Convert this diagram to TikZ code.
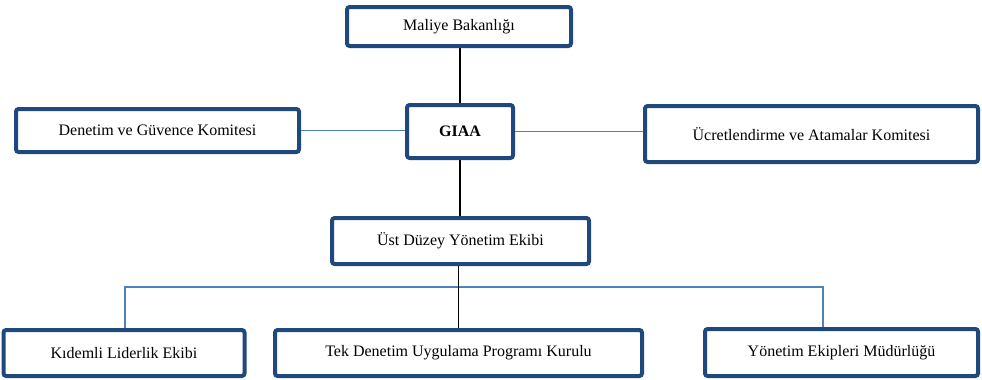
\documentclass[tikz,border=0pt]{standalone}
\usepackage{fontspec}
\setmainfont{Liberation Serif}
\definecolor{boxblue}{HTML}{1F497D}
\definecolor{linkblue}{HTML}{4F81BD}
\tikzset{
  orgbox/.style={draw=boxblue, line width=3pt, rounded corners=2pt, fill=white,
    inner sep=0pt, font=\fontsize{12}{14}\selectfont},
  blackline/.style={draw=black, line width=1.1pt},
  blueline/.style={draw=linkblue, line width=0.9pt},
}
\begin{document}
\begin{tikzpicture}[x=0.75pt, y=-0.75pt]
	\useasboundingbox (0,0) rectangle (982,379);
	% boxes
	\node[orgbox, minimum width=168pt, minimum height=29.25pt] (maliye) at (459,26.5) {Maliye Bakanlığı};
	\node[orgbox, minimum width=212.25pt, minimum height=32.25pt] (denetim) at (157.5,130.5) {Denetim ve Güvence Komitesi};
	\node[orgbox, minimum width=79.5pt, minimum height=39.75pt, font=\fontsize{12}{14}\selectfont\bfseries] (giaa) at (460,131.5) {GIAA};
	\node[orgbox, minimum width=249.75pt, minimum height=42pt] (ucret) at (811.5,134) {Ücretlendirme ve Atamalar Komitesi};
	\node[orgbox, minimum width=192.75pt, minimum height=34.5pt] (ust) at (460.5,241) {Üst Düzey Yönetim Ekibi};
	\node[orgbox, minimum width=180.75pt, minimum height=34.5pt] (kidemli) at (124,353) {Kıdemli Liderlik Ekibi};
	\node[orgbox, minimum width=275.25pt, minimum height=34.5pt] (tek) at (458.5,353) {Tek Denetim Uygulama Programı Kurulu};
	\node[orgbox, minimum width=204.75pt, minimum height=35.25pt] (yonetim) at (841.5,352.5) {Yönetim Ekipleri Müdürlüğü};
	% bus line
	\coordinate (busleft) at (125,287);
	\coordinate (busright) at (823,287);
	% connectors
	\draw[blackline] (maliye.south -| giaa.north) -- (giaa.north);
	\draw[blackline] (giaa.south) -- (giaa.south |- ust.north);
	\draw[blueline] (denetim.east) -- (denetim.east -| giaa.west);
	\draw[blueline] (giaa.east) -- (giaa.east -| ucret.west);
	\draw[blueline] (busleft |- kidemli.north) -- (busleft) -- (busright) -- (busright |- yonetim.north);
	\draw[blackline] (tek.north |- ust.south) -- (tek.north);
\end{tikzpicture}
\end{document}
